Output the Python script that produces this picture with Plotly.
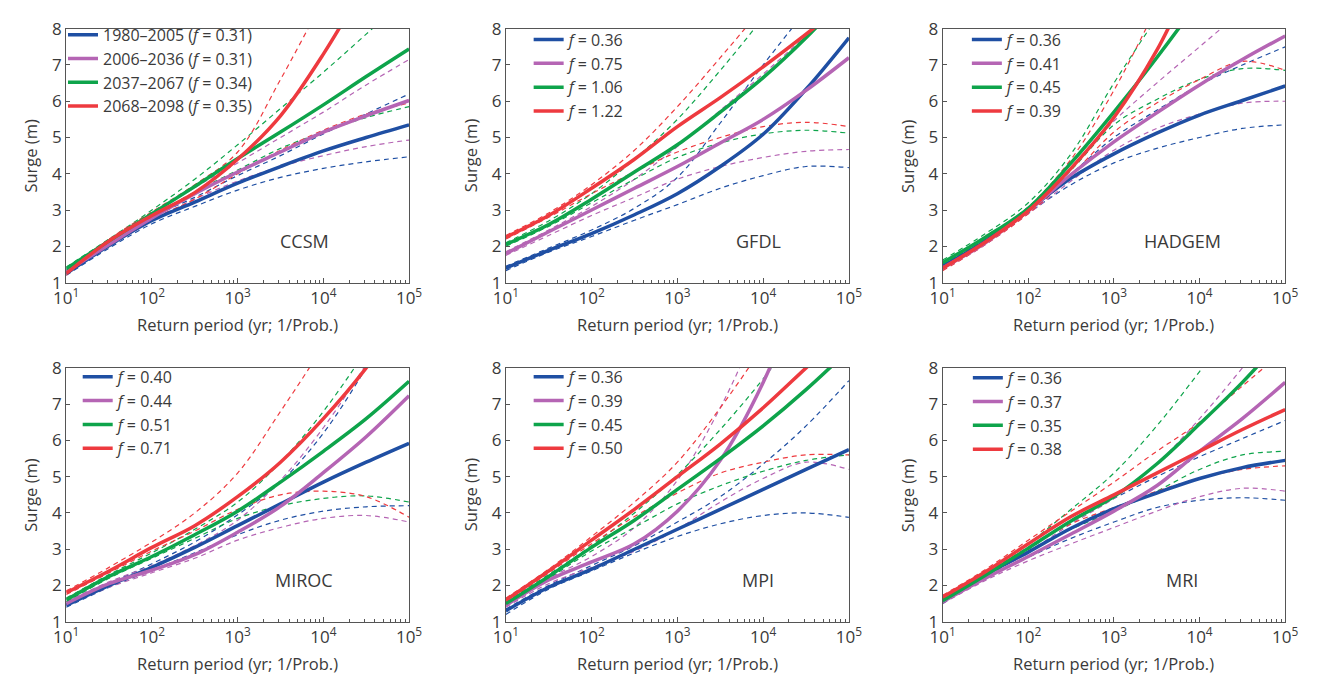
import plotly.graph_objects as go

# Return periods (years) at which the curves are sampled: 10 ... 1e5 in half decades
return_period = [10, 31.6, 100, 316, 1000, 3162, 10000, 31623, 100000]

periods = ["1980–2005", "2006–2036", "2037–2067", "2068–2098"]
colors = ["#1f4fa3", "#b565b4", "#0ea44b", "#ee3a3f"]
models = ["CCSM", "GFDL", "HADGEM", "MIROC", "MPI", "MRI"]

# f values per model, one per period
f_ccsm = [0.31, 0.31, 0.34, 0.35]
f_gfdl = [0.36, 0.75, 1.06, 1.22]
f_hadgem = [0.36, 0.41, 0.45, 0.39]
f_miroc = [0.40, 0.44, 0.51, 0.71]
f_mpi = [0.36, 0.39, 0.45, 0.50]
f_mri = [0.36, 0.37, 0.35, 0.38]

# Surge return levels (m): central estimate, lower and upper bounds, per period
ccsm_mid = [
    [1.25, 2.02, 2.71, 3.22, 3.74, 4.20, 4.63, 5.00, 5.35],
    [1.30, 2.05, 2.78, 3.45, 4.05, 4.60, 5.15, 5.60, 6.02],
    [1.38, 2.15, 2.90, 3.65, 4.42, 5.15, 5.90, 6.68, 7.44],
    [1.25, 2.15, 2.85, 3.48, 4.40, 5.60, 7.30, 9.30, 11.5],
]
ccsm_low = [
    [1.20, 1.95, 2.62, 3.10, 3.55, 3.90, 4.15, 4.33, 4.47],
    [1.25, 2.00, 2.70, 3.30, 3.80, 4.20, 4.50, 4.75, 4.93],
    [1.33, 2.10, 2.82, 3.50, 4.10, 4.70, 5.15, 5.55, 5.85],
    [1.20, 2.08, 2.75, 3.30, 4.00, 4.65, 5.20, 5.65, 5.95],
]
ccsm_high = [
    [1.30, 2.08, 2.80, 3.35, 3.95, 4.50, 5.10, 5.65, 6.20],
    [1.35, 2.10, 2.88, 3.62, 4.30, 5.00, 5.70, 6.45, 7.15],
    [1.43, 2.20, 3.00, 3.85, 4.80, 5.80, 6.80, 7.85, 8.90],
    [1.30, 2.20, 2.95, 3.70, 4.60, 6.60, 8.80, 11.0, 13.0],
]

gfdl_mid = [
    [1.40, 1.89, 2.35, 2.87, 3.45, 4.20, 5.09, 6.33, 7.75],
    [1.80, 2.40, 3.00, 3.60, 4.20, 4.85, 5.50, 6.30, 7.20],
    [2.05, 2.60, 3.30, 4.05, 4.80, 5.70, 6.65, 7.75, 9.00],
    [2.25, 2.85, 3.60, 4.40, 5.30, 6.10, 6.95, 7.85, 8.80],
]
gfdl_low = [
    [1.33, 1.84, 2.27, 2.72, 3.15, 3.60, 3.95, 4.20, 4.17],
    [1.75, 2.30, 2.85, 3.35, 3.85, 4.20, 4.45, 4.62, 4.67],
    [2.00, 2.55, 3.20, 3.85, 4.45, 4.85, 5.10, 5.20, 5.12],
    [2.20, 2.80, 3.45, 4.05, 4.60, 5.00, 5.30, 5.42, 5.30],
]
gfdl_high = [
    [1.45, 1.95, 2.45, 3.05, 3.90, 5.40, 7.00, 8.50, 10.0],
    [1.85, 2.45, 3.10, 3.85, 4.75, 5.75, 6.75, 7.80, 8.80],
    [2.10, 2.70, 3.45, 4.40, 5.50, 6.85, 8.30, 9.80, 11.0],
    [2.30, 2.92, 3.70, 4.65, 5.85, 7.20, 8.60, 10.0, 11.5],
]

hadgem_mid = [
    [1.45, 2.15, 3.00, 3.88, 4.55, 5.12, 5.62, 6.02, 6.42],
    [1.40, 2.10, 2.98, 3.98, 4.88, 5.68, 6.45, 7.15, 7.80],
    [1.55, 2.25, 3.05, 4.30, 5.70, 7.20, 8.80, 10.5, 12.0],
    [1.40, 2.12, 2.98, 4.15, 5.55, 7.40, 9.80, 12.0, 14.0],
]
hadgem_low = [
    [1.40, 2.10, 2.92, 3.70, 4.30, 4.70, 5.00, 5.25, 5.35],
    [1.35, 2.05, 2.90, 3.80, 4.65, 5.25, 5.65, 5.95, 6.00],
    [1.50, 2.20, 3.00, 4.10, 5.35, 6.05, 6.60, 6.90, 6.85],
    [1.33, 2.05, 2.90, 3.95, 5.15, 5.95, 6.60, 7.10, 6.85],
]
hadgem_high = [
    [1.50, 2.20, 3.08, 4.00, 5.00, 5.75, 6.45, 7.00, 7.50],
    [1.45, 2.15, 3.08, 4.15, 5.45, 6.50, 7.50, 8.50, 9.50],
    [1.62, 2.35, 3.20, 4.55, 6.50, 8.30, 10.0, 12.0, 14.0],
    [1.45, 2.20, 3.08, 4.40, 6.30, 8.60, 11.0, 13.5, 16.0],
]

miroc_mid = [
    [1.45, 2.00, 2.50, 3.05, 3.65, 4.25, 4.85, 5.40, 5.92],
    [1.50, 2.05, 2.42, 2.85, 3.47, 4.18, 5.11, 6.10, 7.23],
    [1.60, 2.25, 2.80, 3.40, 4.05, 4.85, 5.70, 6.60, 7.63],
    [1.80, 2.40, 3.05, 3.65, 4.45, 5.40, 6.60, 8.00, 9.70],
]
miroc_low = [
    [1.40, 1.95, 2.42, 2.90, 3.40, 3.80, 4.05, 4.17, 4.20],
    [1.45, 1.95, 2.35, 2.75, 3.25, 3.60, 3.85, 3.93, 3.75],
    [1.55, 2.20, 2.75, 3.30, 3.85, 4.20, 4.40, 4.47, 4.30],
    [1.75, 2.35, 2.95, 3.50, 4.10, 4.50, 4.60, 4.45, 3.88],
]
miroc_high = [
    [1.50, 2.05, 2.60, 3.20, 3.95, 4.85, 6.20, 8.00, 10.0],
    [1.55, 2.10, 2.55, 3.10, 3.80, 4.90, 6.35, 8.10, 10.0],
    [1.65, 2.30, 2.90, 3.55, 4.30, 5.40, 6.80, 8.50, 10.5],
    [1.85, 2.50, 3.20, 4.00, 5.10, 6.80, 8.60, 10.5, 12.5],
]

mpi_mid = [
    [1.30, 1.95, 2.45, 3.00, 3.55, 4.10, 4.65, 5.20, 5.75],
    [1.45, 2.15, 2.65, 3.15, 4.05, 5.45, 7.60, 10.5, 14.0],
    [1.50, 2.25, 3.05, 3.80, 4.65, 5.50, 6.40, 7.40, 8.50],
    [1.60, 2.40, 3.25, 4.10, 5.00, 5.90, 6.90, 8.00, 9.10],
]
mpi_low = [
    [1.20, 1.90, 2.40, 2.90, 3.35, 3.70, 3.93, 4.00, 3.88],
    [1.40, 2.05, 2.50, 2.95, 3.55, 4.30, 4.95, 5.40, 5.20],
    [1.45, 2.20, 2.95, 3.60, 4.25, 4.75, 5.15, 5.45, 5.60],
    [1.55, 2.35, 3.15, 3.90, 4.55, 5.10, 5.40, 5.60, 5.60],
]
mpi_high = [
    [1.35, 2.00, 2.55, 3.10, 3.75, 4.45, 5.35, 6.40, 7.65],
    [1.50, 2.20, 2.80, 3.60, 4.90, 6.90, 9.50, 12.5, 16.0],
    [1.55, 2.30, 3.10, 4.00, 5.05, 6.30, 7.70, 9.30, 11.0],
    [1.65, 2.45, 3.35, 4.30, 5.40, 6.90, 8.60, 10.5, 12.5],
]

mri_mid = [
    [1.55, 2.30, 2.92, 3.58, 4.12, 4.55, 4.95, 5.25, 5.45],
    [1.55, 2.20, 2.80, 3.42, 4.05, 4.75, 5.70, 6.60, 7.60],
    [1.58, 2.28, 3.03, 3.78, 4.45, 5.35, 6.45, 7.60, 8.90],
    [1.68, 2.38, 3.15, 3.90, 4.50, 5.10, 5.70, 6.30, 6.85],
]
mri_low = [
    [1.50, 2.22, 2.78, 3.30, 3.75, 4.15, 4.35, 4.42, 4.35],
    [1.50, 2.14, 2.68, 3.15, 3.60, 4.05, 4.45, 4.68, 4.60],
    [1.52, 2.22, 2.95, 3.55, 4.05, 4.60, 5.20, 5.60, 5.70],
    [1.62, 2.32, 3.05, 3.70, 4.15, 4.60, 4.95, 5.20, 5.30],
]
mri_high = [
    [1.60, 2.36, 3.00, 3.80, 4.40, 5.00, 5.55, 6.05, 6.55],
    [1.60, 2.26, 2.92, 3.70, 4.40, 5.35, 6.60, 8.00, 9.50],
    [1.63, 2.35, 3.15, 4.10, 5.10, 6.40, 7.90, 9.50, 11.0],
    [1.73, 2.44, 3.25, 4.05, 4.85, 5.70, 6.50, 7.50, 8.50],
]

panels = [
    ("CCSM", f_ccsm, ccsm_mid, ccsm_low, ccsm_high),
    ("GFDL", f_gfdl, gfdl_mid, gfdl_low, gfdl_high),
    ("HADGEM", f_hadgem, hadgem_mid, hadgem_low, hadgem_high),
    ("MIROC", f_miroc, miroc_mid, miroc_low, miroc_high),
    ("MPI", f_mpi, mpi_mid, mpi_low, mpi_high),
    ("MRI", f_mri, mri_mid, mri_low, mri_high),
]

# model label position (log10 return period, surge)
label_pos = [(3.78, 2.15), (3.94, 2.15), (3.80, 2.15), (3.78, 2.15), (3.94, 2.15), (3.80, 2.15)]

W, H = 1322, 683
FONT = "Open Sans"
TXT = "#3a3a3a"
FRAME = "#555555"

# subplot boxes in pixels: (left, right, top, bottom)
col_px = [(54.3, 404.0), (502.7, 852.7), (948.3, 1297.7)]
row_px = [(17.3, 280.0), (368.3, 631.0)]
# legend box position in pixels: (left, top)
legend_px = [(51, 6), (526, 11), (973, 11), (66, 360), (526, 360), (974, 361)]

fig = go.Figure()
layout = dict(
    width=W, height=H, autosize=False,
    margin=dict(l=0, r=0, t=0, b=0),
    paper_bgcolor="white", plot_bgcolor="white",
    font=dict(family=FONT, color=TXT, size=15),
    showlegend=True,
)

decades = [10, 100, 1000, 10000, 100000]
minor_vals = [m * d for d in [10, 100, 1000, 10000] for m in range(2, 10)]
annotations = []

for i, (name, fvals, mid, low, high) in enumerate(panels):
    r, c = divmod(i, 3)
    n = i + 1
    xa = "x" if n == 1 else f"x{n}"
    ya = "y" if n == 1 else f"y{n}"
    leg = "legend" if n == 1 else f"legend{n}"
    left, right = col_px[c]
    top, bottom = row_px[r]

    layout["xaxis" if n == 1 else f"xaxis{n}"] = dict(
        type="log", range=[1, 5], domain=[left / W, right / W],
        anchor=ya, showgrid=False, zeroline=False,
        showline=True, mirror=True, linecolor=FRAME, linewidth=1,
        tickmode="array", tickvals=decades,
        ticktext=[f"10<sup>{k}</sup>" for k in range(1, 6)],
        ticks="inside", ticklen=5, tickcolor=FRAME, tickwidth=1,
        tickfont=dict(size=17, color=TXT),
        minor=dict(tickmode="array", tickvals=minor_vals, ticks="inside",
                   ticklen=3, tickcolor=FRAME, showgrid=False),
    )
    layout["yaxis" if n == 1 else f"yaxis{n}"] = dict(
        range=[1, 8], domain=[1 - bottom / H, 1 - top / H],
        anchor=xa, showgrid=False, zeroline=False,
        showline=True, mirror=True, linecolor=FRAME, linewidth=1,
        tickmode="linear", tick0=1, dtick=1,
        ticks="inside", ticklen=4, tickcolor=FRAME,
        tickfont=dict(size=17, color=TXT),
    )

    # confidence bounds (thin dashed)
    for k in range(4):
        for bound in (low[k], high[k]):
            fig.add_trace(go.Scatter(
                x=return_period, y=bound, mode="lines", xaxis=xa, yaxis=ya,
                line=dict(color=colors[k], width=1.2, dash="5px,4px",
                          shape="spline", simplify=False),
                showlegend=False, hoverinfo="skip",
            ))
    # central estimates (thick solid)
    for k in range(4):
        if i == 0:
            label = f"{periods[k]} (<i>f</i> = {fvals[k]:.2f})"
        else:
            label = f"<i>f</i> = {fvals[k]:.2f}"
        fig.add_trace(go.Scatter(
            x=return_period, y=mid[k], mode="lines", xaxis=xa, yaxis=ya,
            line=dict(color=colors[k], width=3.5, shape="spline", simplify=False),
            name=label, legend=leg,
        ))

    lx, ly = legend_px[i]
    layout[leg] = dict(
        x=lx / W, y=1 - ly / H, xanchor="left", yanchor="top",
        bgcolor="rgba(0,0,0,0)", borderwidth=0,
        font=dict(size=16, color=TXT, family=FONT),
        itemwidth=30,
    )

    lxp, lyp = label_pos[i]
    annotations.append(dict(
        x=lxp, y=lyp, xref=xa, yref=ya, text=name, showarrow=False,
        xanchor="center", yanchor="middle",
        font=dict(size=18, color=TXT, family=FONT),
    ))
    # axis titles
    annotations.append(dict(
        x=(left - 36) / W, y=1 - (top + bottom) / 2 / H, xref="paper", yref="paper",
        text="Surge (m)", textangle=-90, showarrow=False,
        xanchor="center", yanchor="middle",
        font=dict(size=16.5, color=TXT, family=FONT),
    ))
    annotations.append(dict(
        x=(left + right) / 2 / W, y=1 - (bottom + 43) / H, xref="paper", yref="paper",
        text="Return period (yr; 1/Prob.)", showarrow=False,
        xanchor="center", yanchor="middle",
        font=dict(size=16.5, color=TXT, family=FONT),
    ))

layout["annotations"] = annotations
fig.update_layout(**layout)
fig.write_html("out.html")
